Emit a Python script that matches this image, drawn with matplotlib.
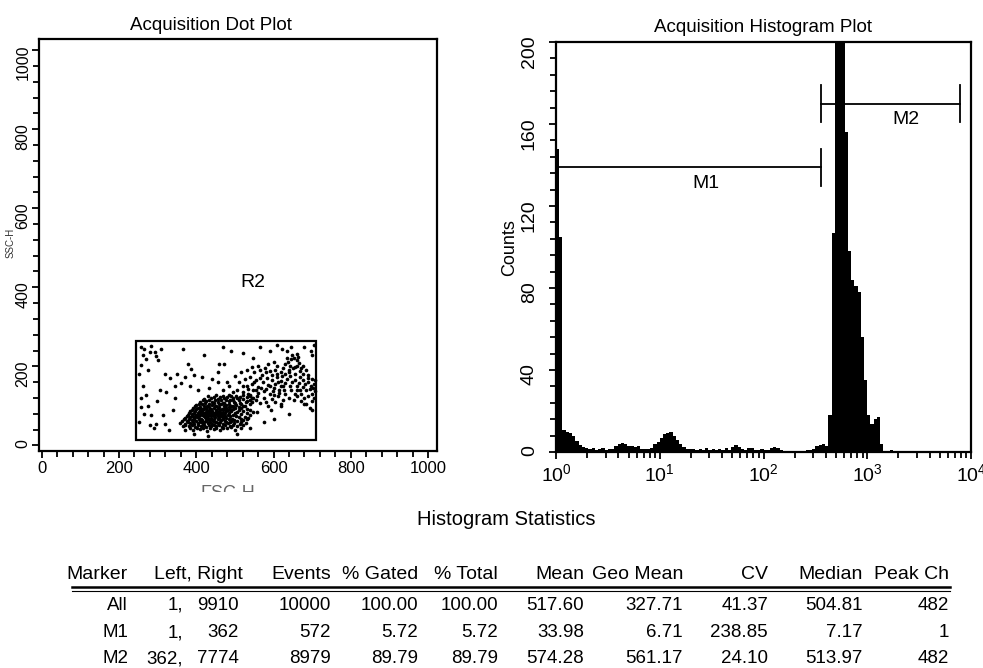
import matplotlib
matplotlib.use('Agg')
import matplotlib.pyplot as plt
import numpy as np
from matplotlib.ticker import MultipleLocator, LogLocator, NullFormatter
from matplotlib.patches import Rectangle
from matplotlib.transforms import Bbox

plt.rcParams['font.family'] = ['Liberation Sans', 'DejaVu Sans']
plt.rcParams['mathtext.fontset'] = 'custom'
plt.rcParams['mathtext.rm'] = 'Liberation Sans'

# ---- dot plot data (FSC-H, SSC-H), read by eye ----
gate_r2 = [245, 14, 709, 264]   # x0, y0, x1, y1

dots_sparse = [(256,248),(266,245),(279,236),(292,236),(284,252),(271,219),(301,215),(258,203),
    (309,245),(365,245),(468,249),(490,240),(421,228),(378,207),(387,194),(460,207),(473,207),
    (455,186),(262,230),(296,227),(252,180),(275,190),(318,180),(333,170),(350,180),(372,173),
    (395,178),(415,172),(440,168),(455,160),(262,150),(306,140),(322,135),(345,150),(360,157),
    (384,150),(405,140),(432,145),(258,120),(270,128),(345,120),(298,112),(258,97),(275,101),
    (284,76),(266,80),(314,76),(296,55),(318,55),(279,51),(252,60),(290,44),(330,40),(340,90),
    (520,235),(548,222),(565,250),(590,240),(610,253),(623,245),(636,240),(644,249),(679,249),
    (696,240),(700,228),(661,232),(704,255),(558,84),(593,89),(619,101),(653,114),(679,105),
    (601,67),(640,80),(700,90),(575,60),(540,45),(505,30),(430,25),(395,30)]

dots_core = [(372,40),(392,38),(410,42),(428,37),(445,41),(462,39),(480,43),(500,40),(515,44),
    (365,48),(380,50),(398,47),(412,49),(425,46),(438,50),(452,48),(466,47),(488,50),(505,49),
    (358,56),(370,55),(385,57),(395,54),(405,56),(418,55),(430,58),(442,54),(455,57),(470,55),
    (482,58),(497,56),(512,55),(528,58),
    (362,63),(376,62),(388,64),(400,61),(410,63),(420,60),(432,64),(444,62),(452,60),(463,64),
    (475,62),(490,63),(505,61),(520,64),
    (370,70),(383,72),(394,69),(403,71),(413,68),(422,72),(430,70),(439,68),(448,71),(458,69),
    (468,72),(478,70),(492,68),(510,71),(535,70),
    (378,78),(390,80),(400,77),(408,79),(416,76),(425,80),(434,78),(443,76),(452,79),(461,77),
    (470,80),(482,78),(496,76),(515,79),(540,77),
    (385,86),(396,88),(406,85),(415,87),(424,84),(432,88),(441,86),(450,84),(459,87),(468,85),
    (478,88),(490,86),(505,84),(522,87),(548,85),
    (392,94),(404,96),(414,93),(424,95),(435,92),(445,96),(455,94),(466,92),(476,95),(488,93),
    (500,96),(516,94),(532,92),
    (400,102),(415,104),(428,101),(440,103),(452,100),(464,104),(476,102),(490,100),(503,103),
    (520,101),(538,104),
    (410,110),(425,112),(440,109),(456,111),(470,108),(484,112),(498,110),(512,108),(528,111),
    (545,109),
    (420,118),(438,120),(455,117),(472,119),(488,116),(505,120),(522,118),(540,116),
    (430,126),(450,128),(468,125),(486,127),(502,124),(520,128),(538,126),(556,124)]

dots_core2 = [(385,44),(402,45),(418,43),(435,45),(452,44),(470,45),(490,46),
    (372,52),(390,52),(405,52),(420,51),(432,53),(445,52),(460,51),(475,52),(495,53),(520,51),
    (378,60),(392,59),(412,59),(425,61),(436,59),(448,60),(462,59),(476,60),(488,59),(515,60),
    (368,67),(382,66),(395,66),(406,67),(416,65),(426,66),(437,67),(447,66),(457,66),(470,67),
    (484,66),(498,65),(515,67),(530,66),
    (375,74),(388,75),(398,74),(408,75),(420,74),(428,75),(438,74),(446,75),(455,74),(465,75),
    (475,74),(487,75),(503,74),(525,73),
    (382,82),(394,83),(404,82),(412,83),(420,82),(430,83),(438,82),(447,82),(456,83),(465,82),
    (474,83),(486,82),(500,81),(530,82),
    (390,90),(400,91),(410,90),(420,91),(429,90),(438,91),(450,90),(461,90),(472,91),(483,90),
    (496,91),(510,89),(540,90),
    (398,99),(409,98),(420,99),(432,98),(448,99),(460,98),(472,99),(484,98),(496,99),(510,98),
    (526,99),
    (408,106),(422,107),(434,106),(447,107),(460,106),(473,107),(486,106),(500,107),(515,106),
    (418,114),(432,115),(448,114),(464,115),(478,114),(494,115),(510,114),(530,113),
    (445,122),(462,123),(480,122),(496,121),(512,123),(530,122),(548,121)]

dots_band = [(520,135),(535,130),(548,140),(505,140),(560,132),(575,138),(590,130),(530,150),
    (545,155),(560,148),(572,160),(585,152),(600,145),(615,140),(625,150),(510,160),(525,168),
    (540,172),(555,165),(570,178),(582,170),(595,165),(608,172),(620,162),(635,168),(648,160),
    (550,185),(565,190),(578,195),(592,188),(605,192),(618,185),(630,180),(642,175),(655,182),
    (560,200),(585,205),(600,210),(545,198),(575,120),(595,118),(612,125),(630,130),(645,140),
    (660,150),(565,108),(585,100),(605,110),(625,115),(470,140),(485,150),(495,135),(480,160),
    (500,175),(515,185),(530,190),(610,200),(625,195),(490,125),(545,120),
    (555,140),(568,145),(580,142),(592,150),(605,155),(618,150),(630,158),(642,150),(655,165),
    (668,172),(610,180),(622,175),(640,185),(650,195),(595,178),(580,185),(565,170),(550,160),
    (535,142),(520,150),(600,128),(615,132),(628,140),(660,140),(675,180),(685,190),(690,178),
    (660,200),(612,160),(598,138),(540,128),(555,115),(580,110),(620,105),(640,120),(655,130)]

dots_upper = [(630,205),(638,212),(645,218),(652,222),(660,215),(665,208),(642,200),(655,198),
    (670,195),(648,228),(635,222),(662,225),(675,200),(668,188),(640,190)]

dots_right = [(668,140),(675,148),(682,155),(690,160),(698,150),(703,145),(706,138),(700,130),
    (690,125),(680,120),(672,130),(685,140),(695,142),(704,155),(706,165),(700,168),(688,170),
    (676,165),(665,158),(670,112),(685,105),(700,112),(705,120),(695,95),(660,125)]

# ---- histogram data: counts per log bin (1/32 decade), 10^0 .. 10^4 ----
hist_counts = [148, 105, 10.6, 10, 9.5, 7.8, 5.4, 3.5, 2.5, 2,
    1.5, 2, 1, 1.5, 2, 1, 1.5, 1.3, 3, 4,
    4.6, 4, 3, 3, 2.5, 3, 1.5, 1.3, 1.5, 2,
    3.7, 5, 7, 9, 9.5, 10, 8, 6, 3.7, 2.5,
    1.6, 1.3, 1.5, 1, 1.5, 1, 2, 1, 1.3, 1,
    1.5, 1.2, 1.8, 1, 2.5, 3.3, 2.5, 1.5, 1.2, 2,
    2, 1.2, 1, 1.5, 1.2, 1, 1.8, 2.4, 2, 1.2,
    0.5, 0.3, 0, 0.3, 0, 0, 0.5, 0.8, 1, 1.5,
    3, 3.5, 4, 3, 18, 107, 240, 260, 220, 156,
    98, 84, 81, 78, 56, 35, 18, 13.5, 16, 17,
    4, 0.5, 0, 0.8, 0.5, 0, 0, 0, 0, 0,
    0, 0, 0, 0, 0, 0, 0, 0, 0, 0,
    0, 0, 0, 0, 0, 0, 0, 0]
hist_edges = 10 ** (np.arange(len(hist_counts) + 1) / 32.0)

m1_range = [1, 362]
m2_range = [362, 7774]
m1_level = 139
m2_level = 170

# ---- statistics table ----
stat_header = ['Marker', 'Left, Right', 'Events', '% Gated', '% Total', 'Mean',
               'Geo Mean', 'CV', 'Median', 'Peak Ch']
stat_rows = [
    ['All', '1,', '9910', '10000', '100.00', '100.00', '517.60', '327.71', '41.37', '504.81', '482'],
    ['M1', '1,', '362', '572', '5.72', '5.72', '33.98', '6.71', '238.85', '7.17', '1'],
    ['M2', '362,', '7774', '8979', '89.79', '89.79', '574.28', '561.17', '24.10', '513.97', '482'],
]

W, H = 983, 668
fig = plt.figure(figsize=(W / 100, H / 100), dpi=100)

def fx(px):
    return px / W

def fy(py):
    return 1 - py / H

# ---------------- dot plot ----------------
ax1 = fig.add_axes([fx(39), fy(451), fx(437 - 39), (451 - 39) / H])
allpts = dots_sparse + dots_core + dots_core2 + dots_band + dots_upper + dots_right
ax1.scatter([p[0] for p in allpts], [p[1] for p in allpts], s=7, marker='o',
            color='black', linewidths=0)
ax1.add_patch(Rectangle((gate_r2[0], gate_r2[1]), gate_r2[2] - gate_r2[0],
                        gate_r2[3] - gate_r2[1], fill=False, lw=1.6, ec='black'))
ax1.text(547, 413, 'R2', fontsize=14, ha='center', va='center')
ax1.set_xlim(-7, 1023)
ax1.set_ylim(-14, 1028)
ax1.set_xticks([0, 200, 400, 600, 800, 1000])
ax1.set_yticks([0, 200, 400, 600, 800, 1000])
ax1.xaxis.set_minor_locator(MultipleLocator(40))
ax1.yaxis.set_minor_locator(MultipleLocator(40))
ax1.tick_params(which='major', direction='out', length=5, width=1.3, labelsize=12, pad=2)
ax1.tick_params(which='minor', direction='out', length=4, width=1.3)
ax1.tick_params(axis='y', labelrotation=90, labelsize=11.5, pad=1)
for s in ax1.spines.values():
    s.set_linewidth(1.6)

fig.text(fx(211), fy(25), 'Acquisition Dot Plot', fontsize=13.5, ha='center', va='center')
fig.text(fx(11), fy(243), 'SSC-H', fontsize=7, rotation=90, ha='center', va='center', color='#333333')
fsc = fig.text(fx(228), fy(485), 'FSC-H', fontsize=13, ha='center', va='top', color='#666666')
fsc.set_clip_box(Bbox.from_extents(0, H - 492, W, H - 485))
fsc.set_clip_on(True)

# ---------------- histogram ----------------
ax2 = fig.add_axes([fx(556), fy(452), fx(971 - 556), (452 - 42) / H])
ax2.stairs(hist_counts, hist_edges, fill=True, color='black', linewidth=0)
ax2.set_xscale('log')
ax2.set_xlim(1, 10000)
ax2.set_ylim(0, 200)

ax2.plot(m1_range, [m1_level, m1_level], color='black', lw=1.3)
ax2.plot([m1_range[1]] * 2, [m1_level - 9, m1_level + 9], color='black', lw=1.3)
ax2.plot(m2_range, [m2_level, m2_level], color='black', lw=1.3)
for xv in m2_range:
    ax2.plot([xv, xv], [m2_level - 9, m2_level + 9], color='black', lw=1.3)
ax2.text(28, 131, 'M1', fontsize=14, ha='center', va='center')
ax2.text(2340, 162, 'M2', fontsize=14, ha='center', va='center')

ax2.set_xticks([1, 10, 100, 1000, 10000])
ax2.set_xticklabels([r'$\mathregular{10^{%d}}$' % i for i in range(5)])
ax2.xaxis.set_minor_locator(LogLocator(base=10, subs=np.arange(2, 10)))
ax2.xaxis.set_minor_formatter(NullFormatter())
ax2.set_yticks([0, 40, 80, 120, 160, 200])
ax2.yaxis.set_minor_locator(MultipleLocator(8))
ax2.tick_params(which='major', direction='out', length=5, width=1.3, labelsize=14, pad=3)
ax2.tick_params(which='minor', direction='out', length=4, width=1.3)
ax2.tick_params(axis='y', labelrotation=90, labelsize=14, pad=8)
for s in ax2.spines.values():
    s.set_linewidth(1.6)

fig.text(fx(763), fy(27), 'Acquisition Histogram Plot', fontsize=13.5, ha='center', va='center')
fig.text(fx(510), fy(248), 'Counts', fontsize=13, rotation=90, ha='center', va='center')

# ---------------- statistics table ----------------
fig.text(fx(506), fy(525), 'Histogram Statistics', fontsize=14.5, ha='center', va='baseline')

head_right = [128, 243, 331, 418, 498, 584, 683, 768, 863, 949]
for txt, xr in zip(stat_header, head_right):
    fig.text(fx(xr), fy(579), txt, fontsize=14, ha='right', va='baseline')

fig.add_artist(plt.Line2D([fx(72), fx(950)], [fy(587), fy(587)], color='black', lw=1.8))
fig.add_artist(plt.Line2D([fx(72), fx(950)], [fy(590.5), fy(590.5)], color='black', lw=0.8))

cell_right = [128, 183, 239, 331, 418, 498, 584, 683, 768, 863, 949]
row_base = [610, 637, 663]
for row, yb in zip(stat_rows, row_base):
    for txt, xr in zip(row, cell_right):
        fig.text(fx(xr), fy(yb), txt, fontsize=13.5, ha='right', va='baseline')

fig.savefig('out.png', dpi=100)
